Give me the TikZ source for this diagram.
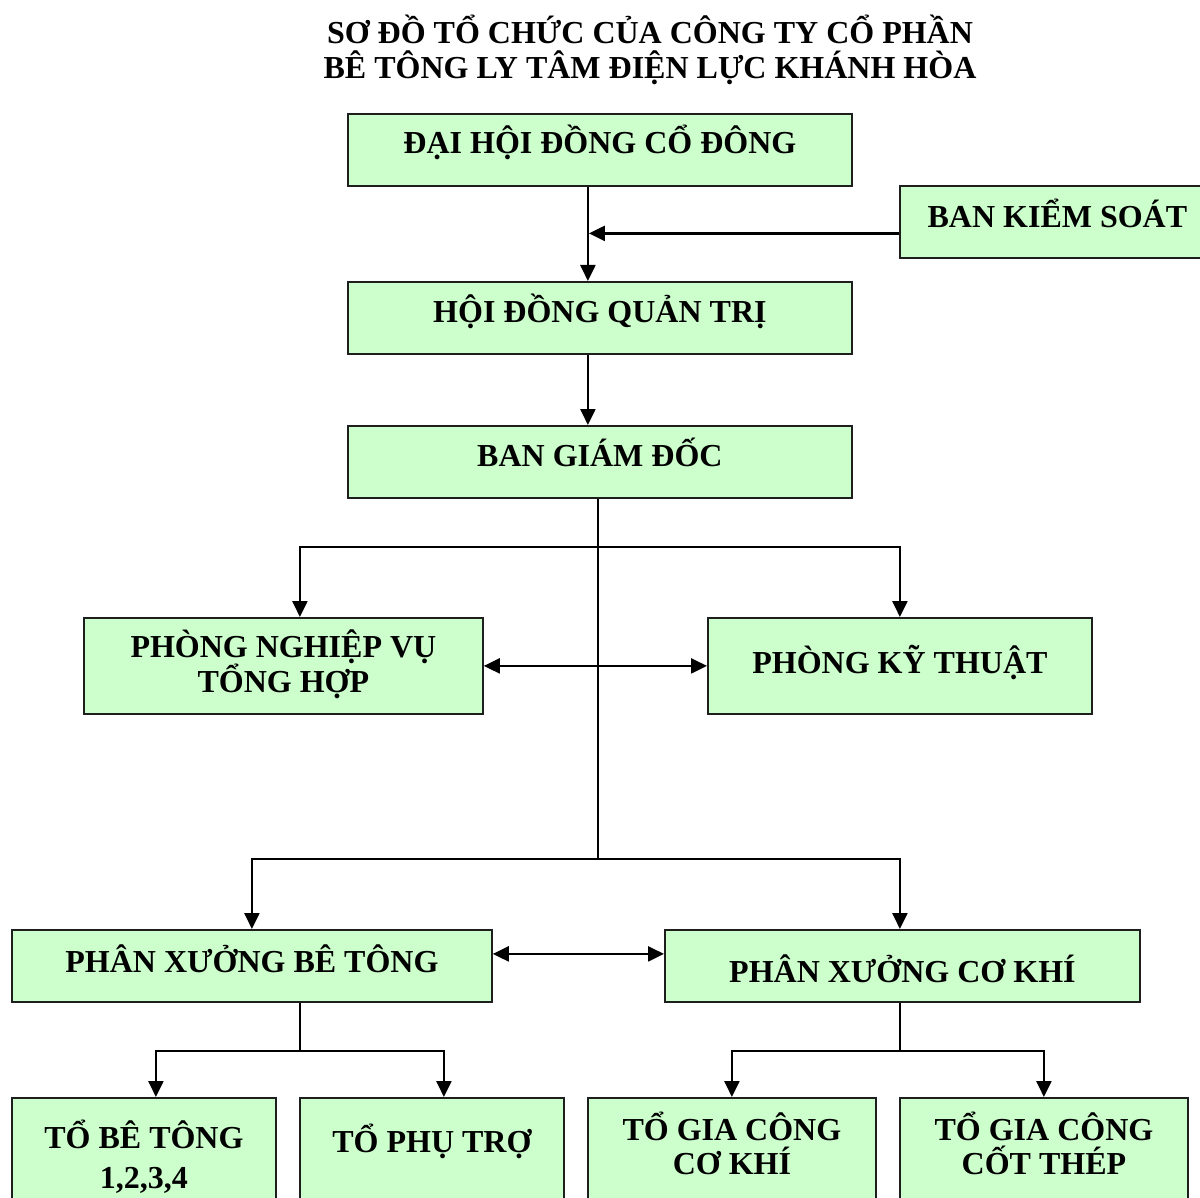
\documentclass[tikz,border=0pt]{standalone}
\usepackage{fontspec}
\setmainfont{Liberation Serif}
\usetikzlibrary{arrows.meta,positioning,calc}
\definecolor{boxgreen}{RGB}{204,255,204}
\definecolor{boxline}{RGB}{30,30,30}

\begin{document}
\begin{tikzpicture}[x=1pt,y=-1pt,
  box/.style={draw=boxline,fill=boxgreen,line width=1.8pt,anchor=north west,inner sep=0pt,minimum height=72pt,text height=21pt,text depth=12pt,align=center,font=\fontsize{32}{34}\selectfont\bfseries},
  leaf/.style={box,minimum height=0pt,text depth=60pt},
  arr/.style={-{Triangle[length=16pt,width=15pt]},line width=2.4pt},
  darr/.style={{Triangle[length=16pt,width=15pt]}-{Triangle[length=16pt,width=15pt]},line width=2.4pt},
  ln/.style={line width=2.4pt}]
\useasboundingbox (0,0) rectangle (1200,1198);
\node[anchor=north,inner sep=0pt,text height=78.5pt,text depth=0pt,align=center,font=\fontsize{32}{35}\selectfont\bfseries] (title) at (650,0) {SƠ ĐỒ TỔ CHỨC CỦA CÔNG TY CỔ PHẦN\\BÊ TÔNG LY TÂM ĐIỆN LỰC KHÁNH HÒA};
% top levels
\node[box,minimum width=504pt,text depth=13pt] (dhdcd) at (347,113) {ĐẠI HỘI ĐỒNG CỔ ĐÔNG};
\node[box,minimum width=315pt,text depth=10pt] (bks) at (899,185) {BAN KIỂM SOÁT};
\node[box,minimum width=504pt] (hdqt) at (347,281) {HỘI ĐỒNG QUẢN TRỊ};
\node[box,minimum width=504pt] (bgd) at (347,425) {BAN GIÁM ĐỐC};
% departments
\node[box,minimum width=399pt,minimum height=96pt,text height=75pt,text depth=21pt] (pnv) at (83,617) {PHÒNG NGHIỆP VỤ\\TỔNG HỢP};
\node[box,minimum width=384pt,minimum height=96pt,text depth=5pt] (pkt) at (707,617) {PHÒNG KỸ THUẬT};
% workshops
\node[box,minimum width=480pt,text depth=8pt] (pxbt) at (11,929) {PHÂN XƯỞNG BÊ TÔNG};
\node[box,minimum width=475pt,text height=33pt,text depth=0pt] (pxck) at (664,929) {PHÂN XƯỞNG CƠ KHÍ};
% teams
\node[leaf,minimum width=264pt,text height=91pt] (tbt) at (11,1097) {TỔ BÊ TÔNG\\[6pt]1,2,3,4};
\node[leaf,minimum width=264pt,text height=54.5pt] (tpt) at (299,1097) {TỔ PHỤ TRỢ};
\node[leaf,minimum width=288pt,text height=77pt] (tgcck) at (587,1097) {TỔ GIA CÔNG\\CƠ KHÍ};
\node[leaf,minimum width=288pt,text height=77pt] (tgcct) at (899,1097) {TỔ GIA CÔNG\\CỐT THÉP};
% junctions
\coordinate (m1) at ([xshift=-12pt]dhdcd.south);
\coordinate (k1) at ([yshift=-11.5pt]bks.west);
\coordinate (t1) at ([xshift=-2pt,yshift=-48pt]bgd.south);
\coordinate (t2) at ([xshift=-2pt,yshift=-360pt]bgd.south);
\coordinate (b1) at ([xshift=48pt,yshift=-48pt]pxbt.south);
\coordinate (b2) at ([xshift=-2.5pt,yshift=-48pt]pxck.south);
\draw[arr] (m1) -- ([xshift=-12pt]hdqt.north); \draw[arr] (k1) -- ([xshift=1pt]m1 |- k1);
\draw[arr] ([xshift=-12pt]hdqt.south) -- ([xshift=-12pt]bgd.north);
\draw[ln] ([xshift=-2pt]bgd.south) -- (t2);
\draw[arr] (t1) -| ([xshift=16.5pt]pnv.north); \draw[arr] (t1) -| (pkt.north);
\draw[darr] (pnv.east) -- (pkt.west);
\draw[arr] (t2) -| (pxbt.north); \draw[arr] (t2) -| ([xshift=-2.5pt]pxck.north);
\draw[darr] ([yshift=12pt]pxbt.east) -- ([yshift=12pt]pxck.west);
\draw[ln] ([xshift=48pt]pxbt.south) -- (b1);
\draw[arr] (b1) -| ([xshift=12pt]tbt.north); \draw[arr] (b1) -| ([xshift=12pt]tpt.north);
\draw[ln] ([xshift=-2.5pt]pxck.south) -- (b2);
\draw[arr] (b2) -| (tgcck.north); \draw[arr] (b2) -| (tgcct.north);
\end{tikzpicture}
\end{document}
